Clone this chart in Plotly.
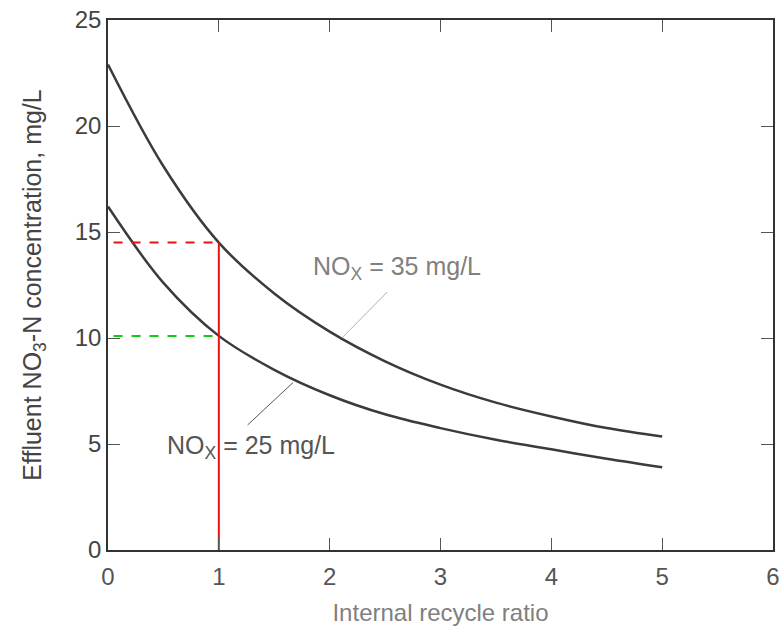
import plotly.graph_objects as go

# Data
recycle_ratio = [0, 0.5, 1, 1.5, 2, 2.5, 3, 3.5, 4, 4.5, 5]
no3_nox35 = [22.9, 18.1, 14.5, 12.1, 10.3, 8.9, 7.8, 6.95, 6.3, 5.75, 5.35]
no3_nox25 = [16.2, 12.6, 10.1, 8.5, 7.3, 6.4, 5.75, 5.2, 4.75, 4.3, 3.9]

x_ticks = [0, 1, 2, 3, 4, 5, 6]
y_ticks = [0, 5, 10, 15, 20, 25]

design_ratio = 1
read_35 = 14.5
read_25 = 10.1

FONT = "Liberation Sans, Arial, Helvetica, sans-serif"

fig = go.Figure()
fig.add_trace(go.Scatter(x=recycle_ratio, y=no3_nox35, mode="lines",
                         line=dict(color="#3a3a3f", width=2.5, shape="spline"),
                         showlegend=False, hoverinfo="skip"))
fig.add_trace(go.Scatter(x=recycle_ratio, y=no3_nox25, mode="lines",
                         line=dict(color="#3a3a3f", width=2.5, shape="spline"),
                         showlegend=False, hoverinfo="skip"))

# red vertical reading line
fig.add_trace(go.Scatter(x=[design_ratio, design_ratio], y=[0, read_35], mode="lines",
                         line=dict(color="#ee1111", width=2), showlegend=False, hoverinfo="skip"))
# dashed reading lines
fig.add_trace(go.Scatter(x=[0.05, design_ratio], y=[read_35, read_35], mode="lines",
                         line=dict(color="#ee1111", width=2, dash="dash"), showlegend=False, hoverinfo="skip"))
fig.add_trace(go.Scatter(x=[0.05, design_ratio], y=[read_25, read_25], mode="lines",
                         line=dict(color="#11cc11", width=2, dash="dash"), showlegend=False, hoverinfo="skip"))

# leader lines
fig.add_trace(go.Scatter(x=[2.52, 2.11], y=[12.17, 10.0], mode="lines",
                         line=dict(color="#b0b0b0", width=1), showlegend=False, hoverinfo="skip"))
fig.add_trace(go.Scatter(x=[1.26, 1.67], y=[5.9, 7.9], mode="lines",
                         line=dict(color="#555555", width=1), showlegend=False, hoverinfo="skip"))

fig.add_annotation(x=2.61, y=13.3, text="NO<sub>X</sub> = 35 mg/L", showarrow=False,
                   font=dict(family=FONT, size=25, color="#808080"))
fig.add_annotation(x=1.29, y=4.86, text="NO<sub>X</sub> = 25 mg/L", showarrow=False,
                   font=dict(family=FONT, size=25, color="#555555"))

fig.update_layout(
    width=784, height=626,
    margin=dict(l=108, r=11, t=20, b=76),
    paper_bgcolor="white", plot_bgcolor="white",
    font=dict(family=FONT, color="#444444"),
)
fig.update_xaxes(range=[0, 6], tickvals=x_ticks, ticktext=[str(v) for v in x_ticks],
                 showgrid=False, zeroline=False, showline=True, linecolor="#333333", linewidth=1.5,
                 mirror="ticks", ticks="inside", ticklen=12, tickcolor="#555555", tickwidth=1,
                 ticklabelstandoff=4,
                 tickfont=dict(family=FONT, size=24, color="#555555"),
                 title=dict(text="Internal recycle ratio", font=dict(family=FONT, size=24, color="#808080"),
                            standoff=18),
                 automargin=False)
fig.update_yaxes(range=[0, 25], tickvals=y_ticks, ticktext=[str(v) for v in y_ticks],
                 showgrid=False, zeroline=False, showline=True, linecolor="#333333", linewidth=1.5,
                 mirror="ticks", ticks="inside", ticklen=12, tickcolor="#555555", tickwidth=1,
                 tickfont=dict(family=FONT, size=24, color="#444444"),
                 title=dict(text="Effluent NO<sub>3</sub>-N concentration, mg/L",
                            font=dict(family=FONT, size=25, color="#444444"), standoff=26),
                 automargin=False)

fig.write_html("out.html")
